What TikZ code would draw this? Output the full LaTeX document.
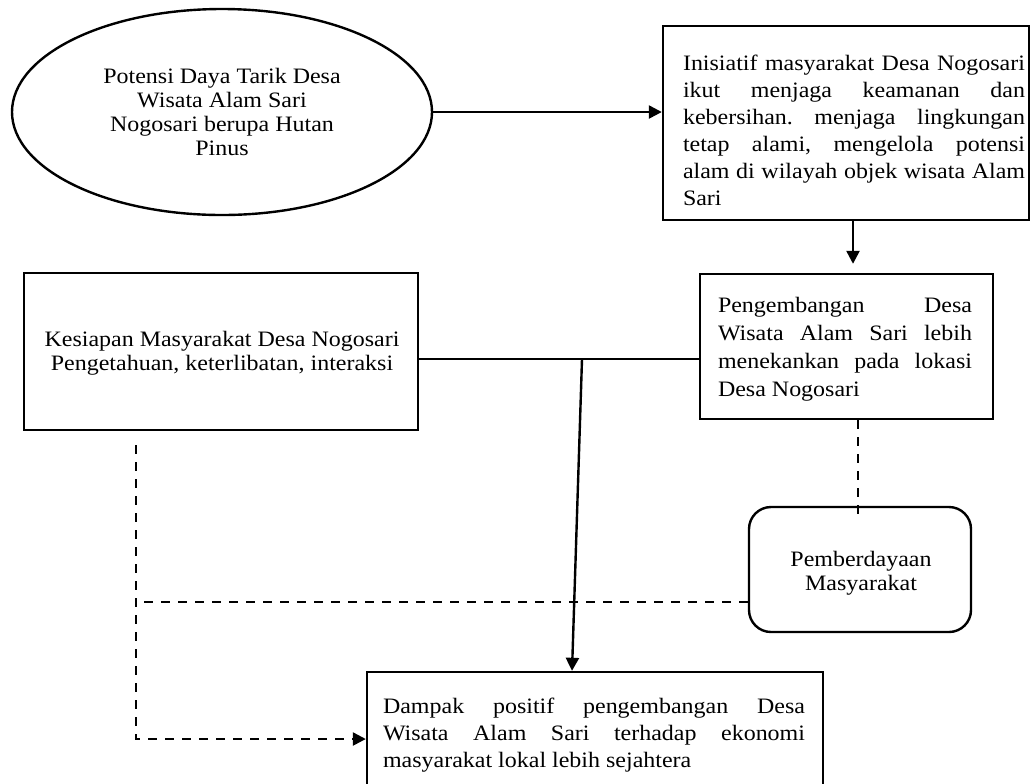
\documentclass[tikz,border=0pt]{standalone}
\usepackage{fontspec}
\setmainfont{Liberation Serif}[FakeStretch=1.09]
\usetikzlibrary{shapes.geometric,arrows.meta,calc}
\hyphenpenalty=10000
\exhyphenpenalty=10000
\tolerance=10000
\frenchspacing
\begin{document}
\begin{tikzpicture}[x=0.5pt,y=-0.5pt,
  line width=1.2pt,
  box/.style={draw, rectangle, inner sep=0pt},
  txt/.style={inner sep=0pt, font=\fontsize{11}{13.5}\selectfont},
  jtxt/.style={txt, align=justify},
  ctxt/.style={inner sep=0pt, align=center},
  arr/.style={-{Triangle[length=6.5pt,width=6.5pt]}},
  dsh/.style={dash pattern=on 4.5pt off 4pt},
]
\useasboundingbox (0,0) rectangle (1031,783);
\fill[white] (0,0) rectangle (1031,783);
\clip (0,0) rectangle (1031,783);

% nodes
\node[draw, ellipse, minimum width=210pt, minimum height=103pt, ctxt,
      font=\fontsize{11}{12}\selectfont] (E) at (222,112)
  {Potensi Daya Tarik Desa\\Wisata Alam Sari\\Nogosari berupa Hutan\\Pinus};

\node[box, minimum width=183pt, minimum height=97pt] (A) at (846,123) {};
\node[jtxt, text width=171pt] (At) at (854,130)
  {Inisiatif masyarakat Desa Nogosari\linebreak ikut menjaga keamanan dan\linebreak kebersihan. menjaga lingkungan\linebreak tetap alami, mengelola potensi\linebreak alam di wilayah objek wisata Alam\linebreak Sari};

\node[box, minimum width=146.5pt, minimum height=72.5pt] (B) at (846.5,346.5) {};
\node[jtxt, text width=127pt, font=\fontsize{11}{14}\selectfont] (Bt) at (845,349)
  {Pengembangan Desa\linebreak Wisata Alam Sari lebih\linebreak menekankan pada lokasi\linebreak Desa Nogosari};

\node[box, minimum width=197pt, minimum height=78.5pt] (C) at (221,351.5) {};
\node[ctxt, font=\fontsize{11}{11.75}\selectfont] (Ct) at (222,353)
  {Kesiapan Masyarakat Desa Nogosari\\Pengetahuan, keterlibatan, interaksi};

\node[box, rounded corners=11pt, minimum width=111pt, minimum height=62.5pt] (P) at (860,569.5) {};
\node[ctxt, font=\fontsize{11}{12}\selectfont] (Pt) at (861,573) {Pemberdayaan\\Masyarakat};

\node[box, minimum width=228pt, minimum height=79pt] (D) at (595,751) {};
\node[jtxt, text width=211pt] (Dt) at (594,735)
  {Dampak positif pengembangan Desa\linebreak Wisata Alam Sari terhadap ekonomi\linebreak masyarakat lokal lebih sejahtera};

% connectors
\draw[arr] (E.east) -- (E.east -| A.west);
\draw[arr, shorten >=4.5pt] ([xshift=3.5pt]A.south) -- ([xshift=3.5pt]A.south |- B.north);

\coordinate (j) at (582,359);
\draw (C.east |- j) -- (j -| B.west);
\draw[arr] (j) -- ([xshift=-11.5pt]D.north);

\draw[dsh] ([xshift=5.75pt]B.south) -- ++(0,99);
\coordinate (k) at (136,602);
\draw[dsh] ([yshift=-16.25pt]P.west) -- (k);
\coordinate (m) at (136,445);
\coordinate (n) at (136,739);
\draw[dsh, arr] (m) -- (n) -- (n -| D.west);
\end{tikzpicture}
\end{document}
